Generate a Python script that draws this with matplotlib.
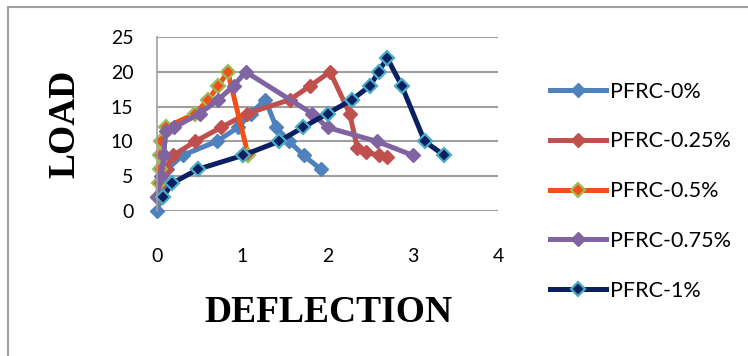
import matplotlib
matplotlib.use("Agg")
import matplotlib.pyplot as plt
from matplotlib.patches import Rectangle

# load-deflection data
x_0 = [0, 0.05, 0.08, 0.12, 0.3, 0.7, 0.95, 1.1, 1.27, 1.4, 1.55, 1.72, 1.92]
y_0 = [0, 2, 4, 6, 8, 10, 12, 14, 16, 12, 10, 8, 6]

x_025 = [0.02, 0.05, 0.1, 0.19, 0.45, 0.75, 1.06, 1.56, 1.8, 2.03, 2.26, 2.35, 2.45, 2.6, 2.7]
y_025 = [2, 4, 6, 8, 10, 12, 14, 16, 18, 20, 14, 9, 8.5, 8, 7.7]

x_05 = [0.01, 0.02, 0.03, 0.04, 0.05, 0.1, 0.45, 0.6, 0.72, 0.83, 1.07]
y_05 = [2, 4, 6, 8, 10, 12, 14, 16, 18, 20, 8]

x_075 = [0, 0.05, 0.08, 0.1, 0.2, 0.5, 0.72, 0.9, 1.04, 1.82, 2.0, 2.58, 3.0]
y_075 = [2, 5, 8, 11.5, 12, 14, 16, 18, 20, 14, 12, 10, 8]

x_1 = [0.07, 0.18, 0.48, 1.01, 1.43, 1.71, 2.0, 2.29, 2.5, 2.6, 2.7, 2.87, 3.14, 3.37]
y_1 = [2, 4, 6, 8, 10, 12, 14, 16, 18, 20, 22, 18, 10, 8]

labels = ["PFRC-0%", "PFRC-0.25%", "PFRC-0.5%", "PFRC-0.75%", "PFRC-1%"]

fig = plt.figure(figsize=(7.48, 3.56), dpi=100)
ax = fig.add_axes([157/748, 1 - 211/356, 341/748, 174/356])

lw = 3.6
ms = 7
ax.plot(x_0, y_0, color="#4F81BD", lw=lw, marker="D", ms=ms, mfc="#4F81BD", mec="#4F81BD")
ax.plot(x_025, y_025, color="#C0504D", lw=lw, marker="D", ms=ms, mfc="#C0504D", mec="#C0504D")
ax.plot(x_05, y_05, color="#F0501A", lw=lw, marker="D", ms=ms, mfc="#F0501A", mec="#9BBB59", mew=1.6)
ax.plot(x_075, y_075, color="#8064A2", lw=lw, marker="D", ms=ms, mfc="#8064A2", mec="#8064A2")
ax.plot(x_1, y_1, color="#0B2060", lw=lw, marker="D", ms=ms, mfc="#0B2060", mec="#4BACC6", mew=1.6)

ax.set_xlim(0, 4)
ax.set_ylim(0, 25)
ax.set_xticks([0, 1, 2, 3, 4])
ax.set_yticks([0, 5, 10, 15, 20, 25])
ax.grid(axis="y", color="#A0A0A0", lw=1.5)
ax.set_axisbelow(True)
for s in ["top", "right", "bottom"]:
    ax.spines[s].set_visible(False)
ax.spines["left"].set_color("#A0A0A0")
ax.spines["left"].set_linewidth(1.2)
ax.tick_params(length=0, labelsize=14)
ax.tick_params(axis="x", pad=27)
ax.tick_params(axis="y", pad=17)
for t in ax.get_xticklabels() + ax.get_yticklabels():
    t.set_family("Lato")
for line in ax.lines:
    line.set_clip_on(False)

fig.text(65/748, 1 - 123.5/356, "LOAD", rotation=90, ha="center", va="center",
         family="Liberation Serif", weight="bold", size=27)
fig.text(328.5/748, 1 - 312/356, "DEFLECTION", ha="center", va="center",
         family="Liberation Serif", weight="bold", size=27)

leg = fig.legend(labels, loc="upper left", bbox_to_anchor=(539/748, 1 - 71/356),
                 frameon=False, handlelength=2.6, labelspacing=1.38, borderpad=0,
                 handletextpad=0.2, prop={"family": "Lato", "size": 15.5})

fig.patches.append(Rectangle((8/748, -0.2), 1.5, 1.2 - 7/356, transform=fig.transFigure,
                             fill=False, edgecolor="#A0A0A0", lw=1.5))

fig.savefig("out.png", dpi=100)
